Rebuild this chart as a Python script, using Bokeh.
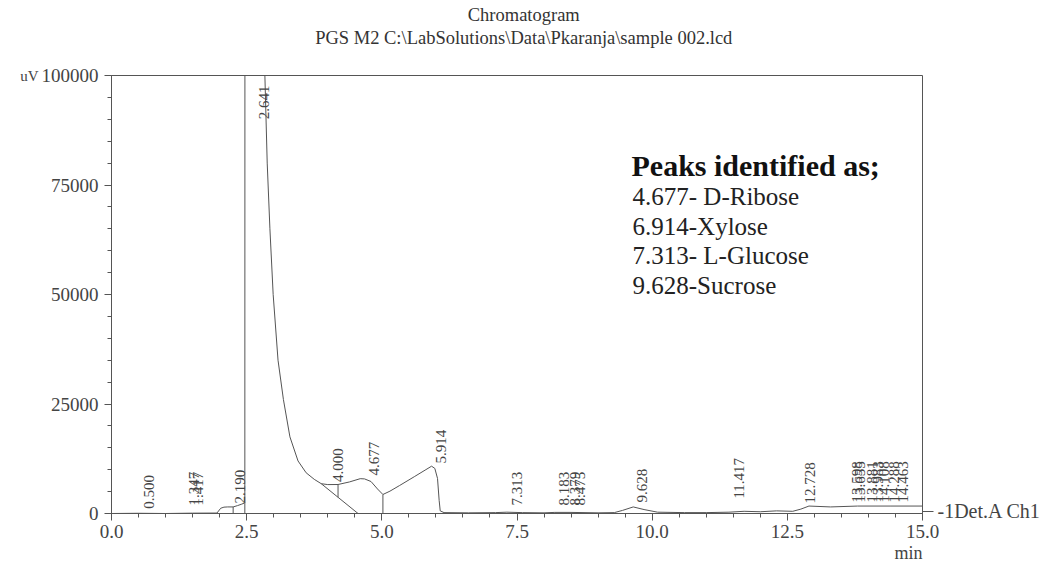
import math
from bokeh.plotting import figure
from bokeh.models import (FixedTicker, PrintfTickFormatter, Label, Range1d, Title,
                          LinearAxis)
from bokeh.core.properties import value
from bokeh.embed import file_html
from bokeh.resources import INLINE

# ---- chromatogram trace (retention time in min, signal in uV) ----
time_min = [0.0, 0.5, 1.0, 1.5, 1.95, 2.02, 2.08, 2.15, 2.25, 2.33, 2.40, 2.46, 2.466,
            2.47, 2.641, 2.78, 2.837, 2.88, 2.93, 2.99, 3.08, 3.18, 3.30, 3.45, 3.60,
            3.75, 3.88, 4.00, 4.19, 4.40, 4.60, 4.68, 4.80, 4.92, 5.02, 5.15, 5.33,
            5.60, 5.80, 5.92, 5.98, 6.03, 6.06, 6.08, 6.15, 6.60, 7.10, 7.313, 7.60,
            8.00, 8.20, 8.48, 9.00, 9.30, 9.45, 9.65, 9.85, 10.10, 10.60, 11.00,
            11.42, 11.70, 12.00, 12.30, 12.60, 12.75, 12.90, 13.30, 13.80, 14.40, 15.00]
signal_uv = [0, 50, 0, 80, 100, 1200, 1450, 1500, 1500, 1800, 2100, 2400, 2500,
             250000, 420000, 200000, 100000, 80000, 65000, 50000, 35000, 26000, 17500, 12000, 9300,
             7800, 6800, 6600, 6620, 7200, 7950, 7900, 7300, 5600, 4340, 5100, 6400,
             8400, 9900, 10800, 10300, 8000, 3000, 600, 200, 150, 200, 300, 200,
             150, 250, 250, 150, 200, 700, 1500, 900, 300, 200, 200,
             300, 500, 400, 600, 500, 1000, 1700, 1500, 1700, 1700, 1700]

# ---- integration drop lines / baseline segments ----
drop_x0 = [2.25, 2.466, 4.19, 5.02, 3.88]
drop_y0 = [0, 0, 3700, 0, 6800]
drop_x1 = [2.25, 2.466, 4.19, 5.02, 4.56]
drop_y1 = [1500, 2500, 6620, 4340, 0]

# ---- peak retention-time labels ----
peak_labels = ["0.500", "1.347", "1.417", "2.190", "2.641", "4.000", "4.677", "5.914",
               "7.313", "8.183", "8.379", "8.475", "9.628", "11.417", "12.728",
               "13.598", "13.655", "13.881", "13.983", "14.108", "14.288", "14.463"]
peak_time = [float(t) for t in peak_labels]
peak_label_y = [1100, 1800, 1800, 2300, 90000, 7200, 8700, 11400,
                1800, 1800, 1800, 1800, 2500, 3400, 2300,
                2500, 2500, 2500, 2500, 2500, 2500, 2500]

# ---- axis ticks ----
x_ticks = [0.0, 2.5, 5.0, 7.5, 10.0, 12.5, 15.0]
y_ticks = [0, 25000, 50000, 75000, 100000]
unit_tick = 100000          # where the "uV" unit label sits
detector_level = 500        # where the detector tag sits at the trace end
title_anchor = 7.625        # x position the header lines are centred on

title_main = "Chromatogram"
title_file = "PGS M2 C:\\LabSolutions\\Data\\Pkaranja\\sample 002.lcd"
detector_tag = "-1Det.A Ch1"
identified_title = "Peaks identified as;"
identified = ["4.677- D-Ribose", "6.914-Xylose", "7.313- L-Glucose", "9.628-Sucrose"]

SERIF = "Liberation Serif"
INK = "#555555"
TXT = "#444444"

p = figure(width=1043, height=565, output_backend="svg", toolbar_location=None,
           x_range=Range1d(0, 15), y_range=Range1d(0, 100000),
           min_border_left=111, min_border_right=121, min_border_top=75, min_border_bottom=52)
p.grid.visible = False
p.background_fill_color = "white"
p.border_fill_color = "white"
p.outline_line_color = INK
p.outline_line_width = 1

p.line(time_min, signal_uv, line_color=INK, line_width=1)
p.segment(x0=drop_x0, y0=drop_y0, x1=drop_x1, y1=drop_y1, line_color=INK, line_width=1)
p.text(x=peak_time, y=peak_label_y, text=peak_labels, angle=math.pi / 2,
       text_align="left", text_baseline="middle", x_offset=10,
       text_font=value(SERIF), text_font_size="15px", text_color=TXT)

x_minor = [i * 0.5 for i in range(31)]
y_minor = [i * 5000 for i in range(21)]
p.xaxis.ticker = FixedTicker(ticks=x_ticks, minor_ticks=x_minor)
p.yaxis.ticker = FixedTicker(ticks=y_ticks, minor_ticks=y_minor)
p.xaxis.formatter = PrintfTickFormatter(format="%.1f")
p.yaxis.formatter = PrintfTickFormatter(format="%d")
for ax in (p.xaxis, p.yaxis):
    ax.axis_line_color = INK
    ax.major_tick_line_color = INK
    ax.minor_tick_line_color = INK
    ax.major_tick_in = 0
    ax.major_tick_out = 7
    ax.minor_tick_in = 0
    ax.minor_tick_out = 4
    ax.major_label_text_font = SERIF
    ax.major_label_text_font_size = "19px"
    ax.major_label_text_color = TXT
p.yaxis.major_label_standoff = 6
p.xaxis.major_label_standoff = 4


def text_axis(tick, label, size, standoff, color=TXT, tick_out=0):
    ax = LinearAxis(ticker=FixedTicker(ticks=[tick], minor_ticks=[]),
                    major_label_overrides={tick: label})
    ax.axis_line_alpha = 0
    ax.major_tick_line_color = INK
    if tick_out == 0:
        ax.major_tick_line_alpha = 0
    ax.major_tick_in = 0
    ax.major_tick_out = tick_out
    ax.minor_tick_line_alpha = 0
    ax.major_label_standoff = standoff
    ax.major_label_text_font = SERIF
    ax.major_label_text_font_size = size
    ax.major_label_text_color = color
    return ax

# unit label "uV" on the left, detector tag on the right
p.add_layout(text_axis(unit_tick, "uV", "15px", 0), "left")
p.add_layout(text_axis(detector_level, detector_tag, "20px", 4, tick_out=11), "right")

# header lines above the frame (the first one added sits nearest the frame)
p.add_layout(text_axis(title_anchor, title_file, "18.5px", 28, color="#333333"), "above")
p.add_layout(text_axis(title_anchor, title_main, "18.5px", 0, color="#333333"), "above")

# "min" unit under the x axis, right aligned
t_min = Title(text="min", align="right", text_font=SERIF, text_font_size="18px",
              text_font_style="normal", text_color=TXT, standoff=0, offset=0)
p.add_layout(t_min, "below")

def lab(x, y, text, size, style="normal", color="#222222"):
    p.add_layout(Label(x=x, y=y, x_units="screen", y_units="screen", text=text,
                       text_font=SERIF, text_font_size=size, text_font_style=style,
                       text_color=color, text_align="left", text_baseline="middle"))

# identified peaks box (screen units from frame bottom-left)
lab(520, 348, identified_title, "30px", style="bold", color="#111111")
for i, t in enumerate(identified):
    lab(521, 317 - 29.5 * i, t, "25px")

open("out.html", "w").write(file_html(p, INLINE))
